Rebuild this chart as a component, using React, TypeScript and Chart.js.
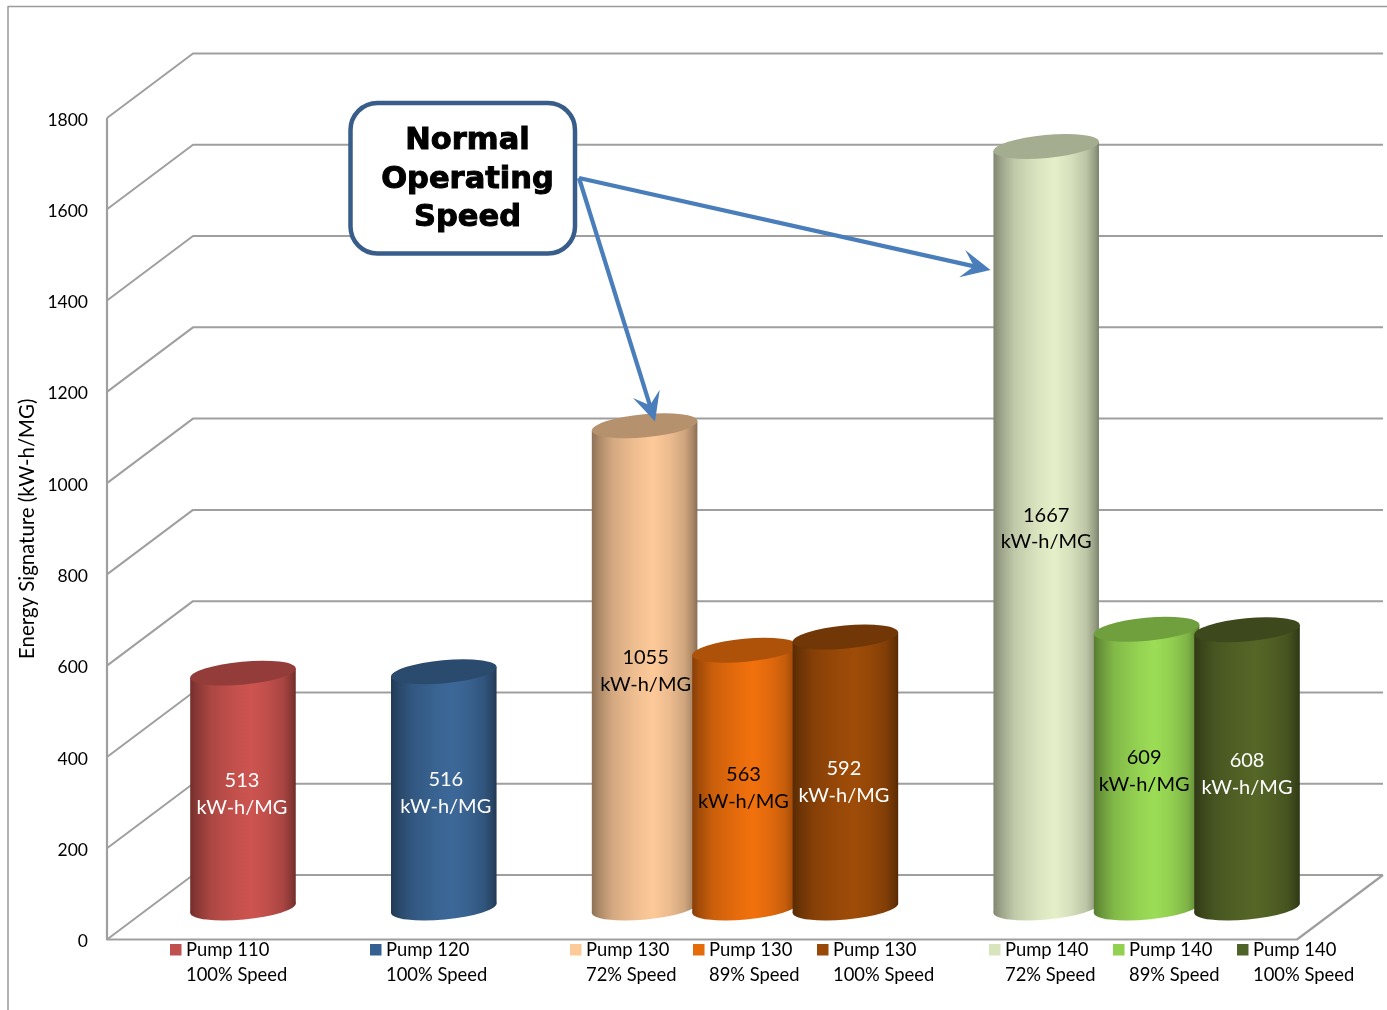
import React, { useEffect, useRef } from "react";
import { BarController, Chart, registerables } from "chart.js";

// Values in kW-h/MG and the slot each cylinder occupies along the floor
const pumps = ["Pump 110", "Pump 120", "Pump 130", "Pump 130", "Pump 130", "Pump 140", "Pump 140", "Pump 140"];
const speeds = ["100% Speed", "100% Speed", "72% Speed", "89% Speed", "100% Speed", "72% Speed", "89% Speed", "100% Speed"];
const energySignature = [513, 516, 1055, 563, 592, 1667, 609, 608];
const slots = [0, 2, 4, 5, 6, 8, 9, 10];
const yTicks = [0, 200, 400, 600, 800, 1000, 1200, 1400, 1600, 1800];
const valueUnit = "kW-h/MG";
const axisTitle = "Energy Signature (kW-h/MG)";
const calloutLines = ["Normal", "Operating", "Speed"];

// Styling, kept apart from the data
const bodyColors = ["#cd5450", "#3c6899", "#fdc999", "#f2710d", "#9f4c08", "#e5f0c9", "#9cdd56", "#556627"];
const swatchColors = ["#c0504d", "#376092", "#fcc998", "#e46c0a", "#984807", "#d8e4bc", "#92d050", "#4f6228"];
const labelColors = ["#fff", "#fff", "#000", "#000", "#fff", "#000", "#000", "#fff"];
const labelNudgeX = [-1, 2, 1, -1.5, -1.5, 0, -2.5, 0];
const labelNudgeY = [3.8, 3.3, 4.8, 9.2, 9.8, 1.5, 2.8, 5.8];
const swatchLefts = [170, 370, 570, 693, 817, 989, 1113, 1237];

const FONT = "Lato";
const DEPTH_X = 86;
const DEPTH_Y = 64.5;
const TILT = (-5.3 * Math.PI) / 180;
const MINOR = 11.5;
const GRID = "#9f9f9f";
const ARROW = "#4a7ebb";

function shade(hex: string, k: number) {
  const n = parseInt(hex.slice(1), 16);
  const c = [(n >> 16) & 255, (n >> 8) & 255, n & 255].map((v) => Math.round(v * k));
  return `rgb(${c[0]},${c[1]},${c[2]})`;
}

const shadeStops: [number, number][] = [
  [0, 0.56],
  [0.07, 0.68],
  [0.2, 0.84],
  [0.42, 0.95],
  [0.58, 1],
  [0.74, 0.93],
  [0.88, 0.82],
  [0.96, 0.66],
  [1, 0.54],
];

// A bar controller that paints each bar as a shaded cylinder standing mid-way into the floor
class CylinderController extends BarController {
  static id = "cylinder";
  draw() {
    const meta = this.getMeta();
    const ctx = this.chart.ctx;
    meta.data.forEach((bar: any, i: number) => {
      const a = bar.width / 2;
      const cx = bar.x + DEPTH_X / 2;
      const topY = bar.y - DEPTH_Y / 2;
      const baseY = bar.base - DEPTH_Y / 2 + 0.8;
      const color = bodyColors[i];
      const sin = Math.sin(TILT);
      const cos = Math.cos(TILT);
      const hx = Math.sqrt(a * a * cos * cos + MINOR * MINOR * sin * sin);
      const skew = ((a * a - MINOR * MINOR) * sin * cos) / hx;

      const gradient = ctx.createLinearGradient(cx - hx, 0, cx + hx, 0);
      shadeStops.forEach(([p, k]) => gradient.addColorStop(p, shade(color, k)));

      ctx.save();
      ctx.fillStyle = gradient;
      ctx.beginPath();
      ctx.moveTo(cx - hx, topY - skew);
      ctx.lineTo(cx + hx, topY + skew);
      ctx.lineTo(cx + hx, baseY + skew);
      ctx.lineTo(cx - hx, baseY - skew);
      ctx.closePath();
      ctx.fill();
      ctx.beginPath();
      ctx.ellipse(cx, baseY, a, MINOR, TILT, 0, Math.PI * 2);
      ctx.fill();
      ctx.fillStyle = shade(color, 0.72);
      ctx.beginPath();
      ctx.ellipse(cx, topY, a, MINOR, TILT, 0, Math.PI * 2);
      ctx.fill();
      ctx.restore();
    });
  }
}

Chart.register(...registerables, CylinderController);

// Back wall, side wall and floor lines, one per y tick
const wallsPlugin = {
  id: "walls",
  beforeDatasetsDraw(chart: any) {
    const { ctx, chartArea, scales } = chart;
    const { left, right } = chartArea;
    const line = (pts: number[][], width = 2, color = GRID) => {
      ctx.strokeStyle = color;
      ctx.lineWidth = width;
      ctx.lineJoin = "round";
      ctx.beginPath();
      pts.forEach(([x, y], i) => (i ? ctx.lineTo(x, y) : ctx.moveTo(x, y)));
      ctx.stroke();
    };
    ctx.save();
    // outer frame of the figure
    line([[8, 1010], [8, 6.5], [1387, 6.5]], 1.5, "#9a9a9a");
    yTicks.forEach((v) => {
      const y = scales.y.getPixelForValue(v);
      line([[left, y], [left + DEPTH_X, y - DEPTH_Y], [right + DEPTH_X, y - DEPTH_Y]]);
    });
    const top = scales.y.getPixelForValue(yTicks[yTicks.length - 1]);
    const zero = scales.y.getPixelForValue(0);
    line([[left, top], [left, zero], [right, zero], [right + DEPTH_X, zero - DEPTH_Y]], 2.2);
    ctx.restore();
  },
};

function drawArrow(ctx: CanvasRenderingContext2D, x0: number, y0: number, x1: number, y1: number) {
  const ang = Math.atan2(y1 - y0, x1 - x0);
  const ux = Math.cos(ang);
  const uy = Math.sin(ang);
  const at = (back: number, side: number): [number, number] => [
    x1 - ux * back - uy * side,
    y1 - uy * back + ux * side,
  ];
  ctx.strokeStyle = ARROW;
  ctx.fillStyle = ARROW;
  ctx.lineWidth = 4.2;
  ctx.beginPath();
  ctx.moveTo(x0, y0);
  ctx.lineTo(...at(12, 0));
  ctx.stroke();
  ctx.beginPath();
  ctx.moveTo(x1, y1);
  ctx.lineTo(...at(29, 14));
  ctx.lineTo(...at(17, 0));
  ctx.lineTo(...at(29, -14));
  ctx.closePath();
  ctx.fill();
}

// Value labels, legend entries, callout box and its arrows
const overlayPlugin = {
  id: "overlay",
  afterDatasetsDraw(chart: any) {
    const { ctx } = chart;
    const bars = chart.getDatasetMeta(0).data;
    ctx.save();
    ctx.textBaseline = "middle";

    ctx.textAlign = "center";
    ctx.font = `20px ${FONT}`;
    bars.forEach((bar: any, i: number) => {
      const cx = bar.x + DEPTH_X / 2 + labelNudgeX[i];
      const midY = (bar.y + bar.base) / 2 - DEPTH_Y / 2 + labelNudgeY[i];
      ctx.fillStyle = labelColors[i];
      ctx.fillText(String(energySignature[i]), cx, midY - 13.3);
      ctx.fillText(valueUnit, cx, midY + 13.3);
    });

    ctx.textAlign = "left";
    ctx.font = `18.4px ${FONT}`;
    pumps.forEach((pump, i) => {
      const x = swatchLefts[i];
      ctx.fillStyle = swatchColors[i];
      ctx.fillRect(x, 944, 11.5, 11.5);
      ctx.fillStyle = "#000";
      ctx.fillText(pump, x + 16, 950.5);
      ctx.fillText(speeds[i], x + 16, 975.5);
    });

    drawArrow(ctx, 579, 178, 990.5, 270);
    drawArrow(ctx, 579, 178, 655, 421.5);

    ctx.fillStyle = "#fff";
    ctx.strokeStyle = "#385d8a";
    ctx.lineWidth = 4.5;
    ctx.beginPath();
    ctx.roundRect(350.5, 103, 224.5, 150.5, 27);
    ctx.fill();
    ctx.stroke();

    ctx.textAlign = "center";
    ctx.fillStyle = "#000";
    ctx.strokeStyle = "#000";
    ctx.lineWidth = 1;
    ctx.font = `bold 30.5px "DejaVu Sans"`;
    calloutLines.forEach((text, i) => {
      const y = 141.5 + i * 38.5;
      ctx.fillText(text, 467.5, y);
      ctx.strokeText(text, 467.5, y);
    });
    ctx.restore();
  },
};

export default function App() {
  const ref = useRef<HTMLCanvasElement>(null);

  useEffect(() => {
    const chart = new Chart(ref.current!, {
      type: "cylinder" as any,
      data: {
        datasets: [
          {
            label: axisTitle,
            data: energySignature.map((y, i) => ({ x: slots[i], y })),
            barThickness: 106,
            clip: false,
          } as any,
        ],
      },
      options: {
        animation: false,
        responsive: false,
        events: [],
        layout: { padding: { left: 15, top: 118, right: 90, bottom: 70.5 } },
        plugins: { legend: { display: false }, tooltip: { enabled: false } },
        scales: {
          x: { type: "linear", display: false, min: -0.926, max: 10.926, offset: false },
          y: {
            min: 0,
            max: 1800,
            afterFit(scale: any) {
              scale.width = 92;
            },
            afterBuildTicks(scale: any) {
              scale.ticks = yTicks.map((value) => ({ value }));
            },
            grid: { display: false },
            border: { display: false },
            ticks: {
              color: "#000",
              padding: 11,
              labelOffset: 2,
              callback: (value: any) => String(value),
              font: { family: FONT, size: 17.5 },
            },
            title: {
              display: true,
              text: axisTitle,
              color: "#000",
              padding: { top: 0, bottom: 0 },
              font: { family: FONT, size: 20.4 },
            },
          },
        },
      },
      plugins: [wallsPlugin, overlayPlugin],
    } as any);
    return () => chart.destroy();
  }, []);

  return (
    <div style={{ position: "absolute", left: 0, top: 0, background: "#fff" }}>
      <canvas ref={ref} width={1387} height={1010} style={{ display: "block" }} />
    </div>
  );
}
